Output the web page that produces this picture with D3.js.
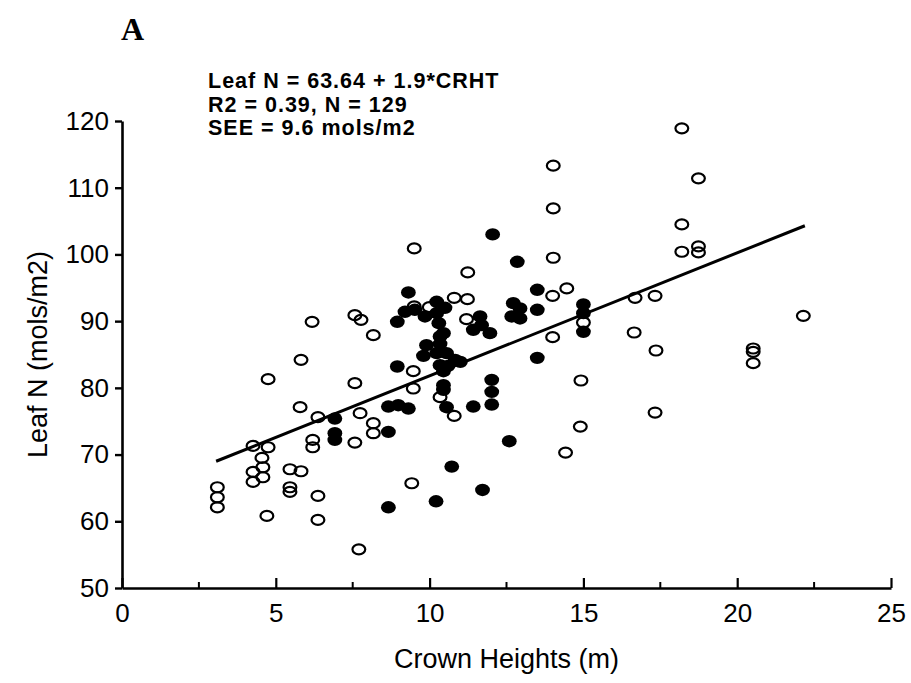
<!DOCTYPE html>
<html>
<head>
<meta charset="utf-8">
<script src="https://cdn.jsdelivr.net/npm/d3@7"></script>
<style>
  html, body { margin: 0; padding: 0; background: #fff; }
  svg { display: block; }
</style>
</head>
<body>
<svg id="chart" width="911" height="683"></svg>
<script>
// Open circles (crown height m, leaf N mols/m2)
const openX = [3.1, 3.1, 3.1, 4.26, 4.26, 4.26, 4.55, 4.58, 4.58, 4.75, 4.75, 4.71, 5.46, 5.82, 5.46, 5.46,
  5.82, 5.79, 6.37, 6.2, 6.2, 6.37, 6.37, 6.18, 7.57, 7.77, 8.17, 7.57, 7.74, 8.17, 8.17, 7.57, 7.70,
  9.5, 9.5, 9.99, 9.47, 9.47, 9.42, 10.34, 10.8, 10.8, 11.23, 11.24, 11.2,
  14.02, 14.02, 14.02, 14.0, 14.46, 14.0, 14.92, 14.9, 14.42, 15.0,
  16.68, 17.33, 16.65, 17.36, 17.33, 18.2, 18.74, 18.2, 18.2, 18.74, 18.74, 20.52, 20.52, 20.52, 22.15];
const openY = [65.1, 63.6, 62.1, 71.3, 67.4, 65.9, 69.5, 68.1, 66.6, 71.1, 81.3, 60.8, 67.8, 67.5, 65.1, 64.4,
  84.2, 77.1, 75.6, 72.2, 71.1, 63.8, 60.2, 89.9, 90.9, 90.2, 87.9, 80.7, 76.2, 74.7, 73.2, 71.8, 55.8,
  100.9, 92.2, 92.1, 82.5, 79.9, 65.7, 78.6, 75.8, 93.5, 93.3, 97.3, 90.3,
  113.3, 106.9, 99.5, 93.8, 94.9, 87.6, 81.1, 74.2, 70.3, 89.8,
  93.5, 93.8, 88.3, 85.6, 76.3, 118.9, 111.4, 104.5, 100.4, 101.2, 100.3, 85.9, 85.4, 83.7, 90.8];

// Filled circles
const filledX = [6.92, 6.92, 6.92, 8.66, 8.66, 8.98, 9.31, 8.66, 10.21, 11.72, 10.72, 12.59, 10.55, 11.42,
  12.02, 12.02, 12.02, 10.45, 10.45, 8.95, 10.45, 10.34, 10.6, 10.83, 11.0, 9.8, 10.23, 10.55, 9.9, 10.34,
  10.34, 10.45, 10.3, 8.95, 9.85, 10.23, 9.2, 9.52, 10.23, 10.5, 9.31, 11.64, 11.69, 11.42, 11.96,
  12.05, 12.85, 12.72, 12.94, 12.67, 12.94, 13.5, 13.5, 13.5, 15.0, 15.0, 15.0];
const filledY = [75.4, 73.2, 72.2, 73.4, 77.2, 77.4, 76.9, 62.1, 63.0, 64.7, 68.2, 72.0, 77.1, 77.2,
  77.5, 79.4, 81.2, 79.7, 80.4, 83.2, 82.5, 83.4, 83.3, 84.2, 83.9, 84.8, 85.2, 85.2, 86.4, 86.6,
  87.7, 88.2, 89.7, 89.9, 90.7, 91.2, 91.4, 91.7, 92.9, 92.0, 94.3, 90.7, 89.4, 88.7, 88.2,
  103.0, 98.9, 92.7, 91.9, 90.7, 90.4, 94.7, 91.7, 84.5, 92.5, 91.2, 88.4];

// Regression line endpoints
const fitX = [3.06, 22.2];
const fitY = [69.0, 104.3];

const yTicks = [50, 60, 70, 80, 90, 100, 110, 120];
const xTicks = [0, 5, 10, 15, 20, 25];
const xMinor = [2.5, 7.5, 12.5, 17.5, 22.5];
const annotation = ["Leaf N = 63.64 + 1.9*CRHT", "R2 = 0.39, N = 129", "SEE = 9.6 mols/m2"];
const panelLabel = "A";
const xTitle = "Crown Heights (m)";
const yTitle = "Leaf N (mols/m2)";

const svg = d3.select("#chart");
const x = d3.scaleLinear().domain([0, 25]).range([122, 891]);
const y = d3.scaleLinear().domain([50, 120]).range([588, 121]);
const font = "Liberation Sans, Arial, sans-serif";

// Y axis
const yAxis = svg.append("g").attr("transform", `translate(${x(0)},0)`)
  .call(d3.axisLeft(y).tickValues(yTicks).tickSizeInner(7).tickSizeOuter(0).tickPadding(6));
yAxis.select(".domain").attr("stroke", "#000").attr("stroke-width", 2.6);
yAxis.selectAll(".tick line").attr("stroke", "#000").attr("stroke-width", 2.4);
yAxis.selectAll(".tick text").attr("font-family", font).attr("font-size", 26).attr("fill", "#000");

// X axis (ticks pointing inward)
const xAxis = svg.append("g").attr("transform", `translate(0,${y(50)})`)
  .call(d3.axisBottom(x).tickValues(xTicks).tickSizeInner(-10).tickSizeOuter(0).tickPadding(16));
xAxis.select(".domain").attr("stroke", "#000").attr("stroke-width", 2.6);
xAxis.selectAll(".tick line").attr("stroke", "#000").attr("stroke-width", 2.2);
xAxis.selectAll(".tick text").attr("font-family", font).attr("font-size", 26).attr("fill", "#000");
xAxis.selectAll(".minor").data(xMinor).enter().append("line")
  .attr("class", "minor")
  .attr("x1", d => x(d)).attr("x2", d => x(d))
  .attr("y1", 0).attr("y2", -6)
  .attr("stroke", "#000").attr("stroke-width", 2);

// Regression line
svg.append("line")
  .attr("x1", x(fitX[0])).attr("y1", y(fitY[0]))
  .attr("x2", x(fitX[1])).attr("y2", y(fitY[1]))
  .attr("stroke", "#000").attr("stroke-width", 3);

// Open circles
svg.append("g").selectAll("ellipse").data(openX.map((d, i) => [d, openY[i]])).enter()
  .append("ellipse")
  .attr("cx", d => x(d[0])).attr("cy", d => y(d[1]))
  .attr("rx", 6.4).attr("ry", 5)
  .attr("fill", "none").attr("stroke", "#000").attr("stroke-width", 2.2);

// Filled circles
svg.append("g").selectAll("ellipse").data(filledX.map((d, i) => [d, filledY[i]])).enter()
  .append("ellipse")
  .attr("cx", d => x(d[0])).attr("cy", d => y(d[1]))
  .attr("rx", 7.4).attr("ry", 6.2)
  .attr("fill", "#000");

// Annotation text
svg.append("g").selectAll("text").data(annotation).enter().append("text")
  .attr("x", 208).attr("y", (d, i) => 88 + i * 23.5)
  .attr("font-family", font).attr("font-size", 21.5).attr("font-weight", "bold")
  .attr("letter-spacing", 1)
  .attr("fill", "#000").text(d => d);

// Panel label
svg.append("text").attr("x", 121).attr("y", 40)
  .attr("font-family", "Liberation Serif, Times New Roman, serif")
  .attr("font-weight", "bold").attr("font-size", 32).attr("fill", "#000").text(panelLabel);

// Axis titles
svg.append("text").attr("x", (x(0) + x(25)) / 2).attr("y", 668)
  .attr("text-anchor", "middle").attr("font-family", font).attr("font-size", 27)
  .attr("fill", "#000").text(xTitle);
svg.append("text").attr("transform", `translate(47,${(y(50) + y(120)) / 2}) rotate(-90)`)
  .attr("text-anchor", "middle").attr("font-family", font).attr("font-size", 27)
  .attr("fill", "#000").text(yTitle);
</script>
</body>
</html>
